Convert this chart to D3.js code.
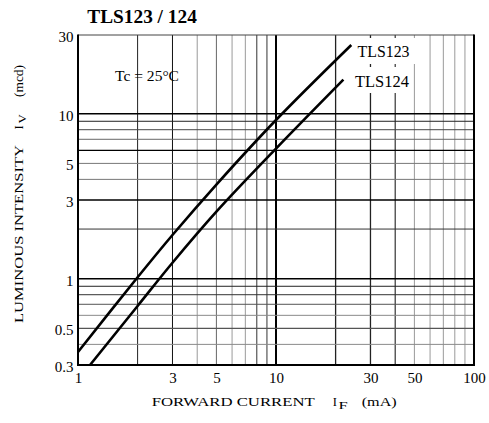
<!DOCTYPE html>
<html>
<head>
<meta charset="utf-8">
<script src="https://cdn.jsdelivr.net/npm/d3@7"></script>
<style>
  html, body { margin: 0; padding: 0; background: #fff; }
  svg { display: block; }
  text { font-family: "Liberation Serif", "Times New Roman", serif; fill: #000; }
</style>
</head>
<body>
<svg id="chart" width="489" height="423"></svg>
<script>
// ---- data ----
const chartTitle = "TLS123 / 124";
const seriesNames = ["TLS123", "TLS124"];
const ifTLS123 = [1, 2, 3, 5, 10, 24];
const ivTLS123 = [0.36, 1.02, 1.84, 3.72, 9.16, 26.1];
const ifTLS124 = [1.15, 2, 3, 5, 10, 21.9];
const ivTLS124 = [0.30, 0.684, 1.25, 2.55, 6.15, 16.1];
const xTickValues = [1, 3, 5, 10, 30, 50, 100];
const yTickValues = [0.3, 0.5, 1, 3, 5, 10, 30];
const xGridValues = [2, 3, 4, 5, 6, 7, 8, 9, 10, 20, 30, 40, 50, 60, 70, 80, 90];
const yGridValues = [0.4, 0.5, 0.6, 0.7, 0.8, 0.9, 1, 2, 3, 4, 5, 6, 7, 8, 9, 10];
const conditionText = "Tc = 25°C";

// ---- layout / styles ----
const svg = d3.select("#chart");
const pL = 78, pR = 474, pT = 35, pB = 365;
const x = d3.scaleLog().domain([1, 100]).range([pL, pR]);
const y = d3.scaleLog().domain([0.3, 30]).range([pB, pT]);

const xGridStyle = {
  2: ["#222", 1], 3: ["#111", 1], 4: ["#9a9a9a", 1], 5: ["#666", 1], 6: ["#9a9a9a", 1],
  7: ["#9a9a9a", 1], 8: ["#333", 1], 9: ["#333", 1], 10: ["#000", 2],
  20: ["#222", 1.3], 30: ["#222", 1.3], 40: ["#333", 1.2], 50: ["#9a9a9a", 1],
  60: ["#9a9a9a", 1], 70: ["#9a9a9a", 1], 80: ["#9a9a9a", 1], 90: ["#9a9a9a", 1]
};
const yGridStyle = {
  0.4: ["#8a8a8a", 1], 0.5: ["#555", 1.2], 0.6: ["#8a8a8a", 1], 0.7: ["#555", 1],
  0.8: ["#333", 1], 0.9: ["#222", 1], 1: ["#000", 1.4], 2: ["#333", 1],
  3: ["#000", 1.4], 4: ["#777", 1], 5: ["#777", 1], 6: ["#000", 1.4],
  7: ["#666", 1], 8: ["#444", 1], 9: ["#222", 1], 10: ["#000", 1.6]
};

// grid
const grid = svg.append("g");
grid.selectAll("line.vx").data(xGridValues).enter().append("line")
  .attr("x1", d => x(d)).attr("x2", d => x(d))
  .attr("y1", pT).attr("y2", pB)
  .attr("stroke", d => xGridStyle[d][0])
  .attr("stroke-width", d => xGridStyle[d][1]);
grid.selectAll("line.hy").data(yGridValues).enter().append("line")
  .attr("x1", pL).attr("x2", pR)
  .attr("y1", d => y(d)).attr("y2", d => y(d))
  .attr("stroke", d => yGridStyle[d][0])
  .attr("stroke-width", d => yGridStyle[d][1]);

// series label boxes (white, hide grid) + labels
const labelSpec = [
  { name: seriesNames[0], x: 357.5, y: 57, len: 52, pad: [5.5, 9, 19, 7] },
  { name: seriesNames[1], x: 355, y: 87, len: 54, pad: [5, 2, 20, 6] }
];
labelSpec.forEach(s => {
  svg.append("rect")
    .attr("x", s.x - s.pad[0]).attr("y", s.y - s.pad[2])
    .attr("width", s.len + s.pad[0] + s.pad[1]).attr("height", s.pad[2] + s.pad[3])
    .attr("fill", "#fff");
  svg.append("text")
    .attr("x", s.x).attr("y", s.y)
    .attr("font-size", 16)
    .attr("textLength", s.len).attr("lengthAdjust", "spacingAndGlyphs")
    .text(s.name);
});

// curves
const line = d3.line()
  .x(d => x(d[0])).y(d => y(d[1]))
  .curve(d3.curveCatmullRom.alpha(0.5));
const series = [
  d3.zip(ifTLS123, ivTLS123),
  d3.zip(ifTLS124, ivTLS124)
];
svg.append("g").selectAll("path").data(series).enter().append("path")
  .attr("d", line)
  .attr("fill", "none")
  .attr("stroke", "#000")
  .attr("stroke-width", 2.6);

// frame
svg.append("line").attr("x1", pL).attr("x2", pR).attr("y1", pT).attr("y2", pT)
  .attr("stroke", "#444").attr("stroke-width", 1);
svg.append("line").attr("x1", pL).attr("x2", pL).attr("y1", pT - 0.5).attr("y2", pB + 1)
  .attr("stroke", "#000").attr("stroke-width", 2);
svg.append("line").attr("x1", pR).attr("x2", pR).attr("y1", pT - 0.5).attr("y2", pB + 1)
  .attr("stroke", "#000").attr("stroke-width", 2);
svg.append("line").attr("x1", pL - 1).attr("x2", pR + 1).attr("y1", pB).attr("y2", pB)
  .attr("stroke", "#000").attr("stroke-width", 2);

// axes tick labels
const fmt = d3.format("~g");
const xAxis = svg.append("g").attr("transform", `translate(0,${pB})`)
  .call(d3.axisBottom(x).tickValues(xTickValues).tickFormat(fmt).tickSize(0).tickPadding(7));
xAxis.select(".domain").remove();
xAxis.selectAll("text").attr("font-size", 15).attr("font-family", "Liberation Serif, serif").attr("fill", "#000");

const yAxis = svg.append("g").attr("transform", `translate(${pL},0)`)
  .call(d3.axisLeft(y).tickValues(yTickValues).tickFormat(fmt).tickSize(0).tickPadding(4.5));
yAxis.select(".domain").remove();
yAxis.selectAll("text").attr("font-size", 15).attr("font-family", "Liberation Serif, serif")
  .attr("fill", "#000").attr("dy", "0.42em");

// title
svg.append("text").attr("x", 87.3).attr("y", 22.7)
  .attr("font-size", 19).attr("font-weight", "bold")
  .attr("textLength", 109.5).attr("lengthAdjust", "spacingAndGlyphs")
  .text(chartTitle);

// condition
svg.append("text").attr("x", 115).attr("y", 81)
  .attr("font-size", 15)
  .attr("textLength", 64).attr("lengthAdjust", "spacingAndGlyphs")
  .text(conditionText);

// x axis title
const xt = svg.append("g");
xt.append("text").attr("x", 151.7).attr("y", 405.5).attr("font-size", 13)
  .attr("textLength", 163).attr("lengthAdjust", "spacingAndGlyphs").text("FORWARD CURRENT");
xt.append("text").attr("x", 332.7).attr("y", 405.5).attr("font-size", 13)
  .attr("textLength", 4.2).attr("lengthAdjust", "spacingAndGlyphs").text("I");
xt.append("text").attr("x", 338.6).attr("y", 409).attr("font-size", 11)
  .attr("textLength", 9.2).attr("lengthAdjust", "spacingAndGlyphs").text("F");
xt.append("text").attr("x", 361.7).attr("y", 405.5).attr("font-size", 13)
  .attr("textLength", 35).attr("lengthAdjust", "spacingAndGlyphs").text("(mA)");

// y axis title (rotated)
const yt = svg.append("g").attr("transform", "translate(22.5,0) rotate(-90)");
yt.append("text").attr("x", -323).attr("y", 0).attr("font-size", 13)
  .attr("textLength", 178).attr("lengthAdjust", "spacingAndGlyphs").text("LUMINOUS INTENSITY");
yt.append("text").attr("x", -129.5).attr("y", 0).attr("font-size", 13)
  .attr("textLength", 4.2).attr("lengthAdjust", "spacingAndGlyphs").text("I");
yt.append("text").attr("x", -123.5).attr("y", 3).attr("font-size", 11)
  .attr("textLength", 9.2).attr("lengthAdjust", "spacingAndGlyphs").text("V");
yt.append("text").attr("x", -97).attr("y", 0).attr("font-size", 13)
  .attr("textLength", 32).attr("lengthAdjust", "spacingAndGlyphs").text("(mcd)");
</script>
</body>
</html>
